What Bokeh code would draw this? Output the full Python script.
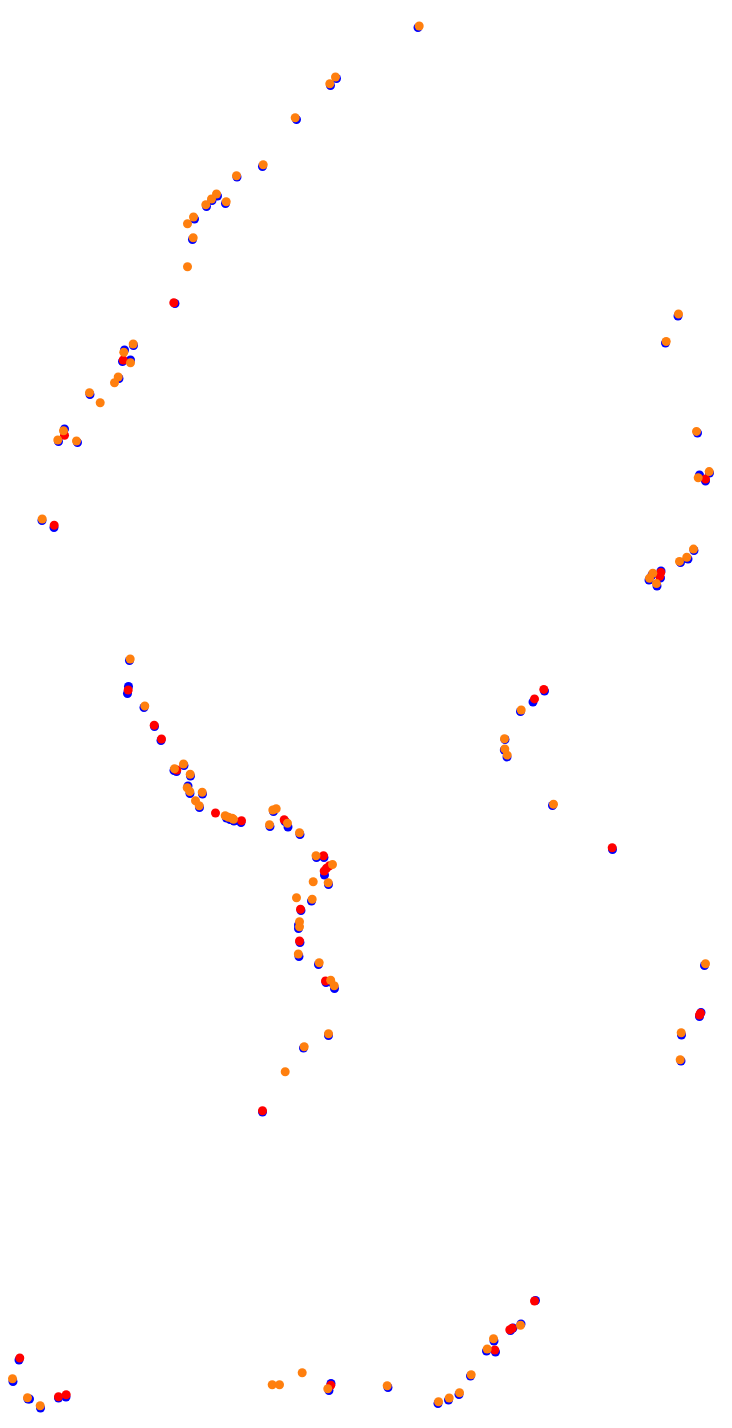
from bokeh.plotting import figure
from bokeh.models import Range1d
from bokeh.embed import file_html
from bokeh.resources import INLINE

# ---- data (track positions, page-pixel-like units, y downward) ----
blue_x = [417.5, 336, 330, 296, 262, 236.5, 217, 211.5, 225, 206, 194, 192, 174.5, 133, 124, 122, 130,
          118.5, 89.5, 64, 58, 77, 41.5, 53.5,
          677.5, 665, 697, 709, 699, 705, 693.5, 687.5, 680, 651.5, 648.5, 660.5, 660, 656.5,
          544, 532.5, 520, 504.5, 503.8, 506.5, 552, 612,
          129, 128, 127, 143.5, 154, 160.5, 173.5, 176, 183.5, 190, 187.5, 189.5, 202, 199,
          226, 229.5, 233.5, 240.5, 273, 269.5, 284.5, 287.5, 299.5, 316, 323.5, 324, 328, 311,
          300.5, 298, 298, 299.5, 298.5, 318, 325.5, 330, 334, 328, 303, 262,
          704, 700.5, 699, 681, 680.5,
          535, 520.5, 510, 512.5, 493.5, 486, 495, 470, 458.5, 448, 437.5, 387.5, 330.5, 328.5,
          18.5, 12.5, 27.5, 29, 40, 58, 65.5]
blue_y = [27.5, 78.5, 85.5, 119.5, 166.5, 177, 196, 200.5, 203.5, 206.5, 219, 239.5, 303.5, 345.5, 350, 361.5, 360,
          378.5, 394.5, 429, 441.5, 442.5, 520.5, 527.5,
          316, 343, 433, 473, 475, 481, 550.5, 559, 562.5, 575, 580, 571, 578, 586,
          691, 702, 711.5, 739.5, 750, 757, 805.5, 849.5,
          660.5, 686.5, 693.5, 707.5, 726.5, 740.5, 770.5, 771.5, 765.5, 776, 786, 793.5, 794, 807.5,
          818, 819.5, 821, 822.5, 811.5, 826.5, 821.5, 827, 834.5, 857.5, 857.5, 875, 884.5, 901,
          910.5, 925, 928.5, 942.5, 956.5, 964.5, 982.5, 982, 988.5, 1035.5, 1048, 1112,
          965.5, 1012.5, 1016.5, 1035, 1061,
          1300.5, 1324, 1330.5, 1328, 1341, 1351, 1352, 1376, 1394.5, 1400, 1403.5, 1387.5, 1383.5, 1390.5,
          1360, 1381.5, 1399, 1399, 1408, 1398, 1397]

red_x = [173.3, 122.7, 64, 53.7,
         705, 660.3, 659.3,
         543.3, 534, 611.7,
         127.7, 153.7, 161, 176.3, 215, 241, 283.7, 323, 329, 326, 323.7, 300, 299, 325, 262,
         700, 699,
         534, 511.7, 509.3, 494.3, 330.3, 19.3, 58, 65.7]
red_y = [302.7, 360, 435.3, 525.3,
         479, 572.5, 576.2,
         689.4, 698.9, 847.8,
         690, 725.3, 739, 770, 813, 820.7, 819.7, 855.8, 865.7, 868.3, 871, 909.2, 941, 981, 1110.7,
         1013.3, 1015,
         1301, 1328.3, 1329.7, 1350, 1385.3, 1358, 1396.7, 1394.7]

orange_x = [418.7, 335, 329.3, 294.7, 262.7, 236, 216, 211, 225.7, 205.3, 193, 187, 192.7, 187,
            132.7, 123.3, 130, 117.7, 114, 89, 99.7, 63, 57.3, 76, 41.7,
            678, 665.7, 696, 708.7, 697.7, 693, 686.3, 679, 652.3, 649, 656,
            520.7, 504, 504.3, 506.7, 553,
            129.7, 144.3, 174, 183, 189.7, 186.7, 189.3, 201.7, 195, 198.7,
            224.7, 228, 231.7, 233, 272.3, 275.7, 269, 287, 299, 315.5, 332, 312.7, 327.7,
            296, 311.7, 299, 299, 297.8, 318.7, 330.2, 333.7, 328, 303.7, 284.7,
            705, 680.7, 679.7,
            520, 493, 486.7, 470.7, 459, 448.7, 438, 386.7, 327.3, 301.7, 271.7, 279,
            12, 27, 39.7]
orange_y = [26, 77, 83.7, 117.7, 164.7, 175.7, 194, 199, 201.7, 204.7, 217, 223.7, 237.7, 266.7,
            344, 352.3, 362.7, 377, 382.7, 392.7, 402.7, 430.7, 440, 441, 519,
            314, 341.5, 431.4, 471.6, 477.7, 549.1, 557.3, 561.4, 573.3, 578.3, 583.6,
            710, 738.7, 748.9, 755.1, 804.3,
            659, 706, 768.7, 764, 774.3, 787.7, 791.5, 792.3, 800.7, 805.7,
            815.7, 817.3, 818.3, 819.3, 810, 808.7, 824.7, 823.3, 832.7, 855.8, 864.5, 881.7, 882.7,
            897.7, 899.3, 921.7, 926.7, 954, 962.8, 980.2, 985.8, 1033.7, 1046.7, 1071.7,
            963.7, 1032.7, 1059.7,
            1325.3, 1338.7, 1349, 1374.7, 1392.7, 1398, 1401.7, 1385.7, 1388.7, 1372.7, 1384.7, 1384.7,
            1378.7, 1397.7, 1405.7]

W, H = 716, 1420
p = figure(width=W, height=H, output_backend="svg", toolbar_location=None,
           x_range=Range1d(0, W), y_range=Range1d(H + 0.5, 0.5),
           min_border=0, outline_line_color=None)
p.axis.visible = False
p.grid.visible = False
p.background_fill_color = "white"
p.border_fill_color = "white"

p.scatter(blue_x, blue_y, size=9, color="#0000ff", line_color=None)
p.scatter(red_x, red_y, size=9, color="#ff0000", line_color=None)
p.scatter(orange_x, orange_y, size=9, color="#ff7f0e", line_color=None)

open("out.html", "w").write(file_html(p, INLINE))
